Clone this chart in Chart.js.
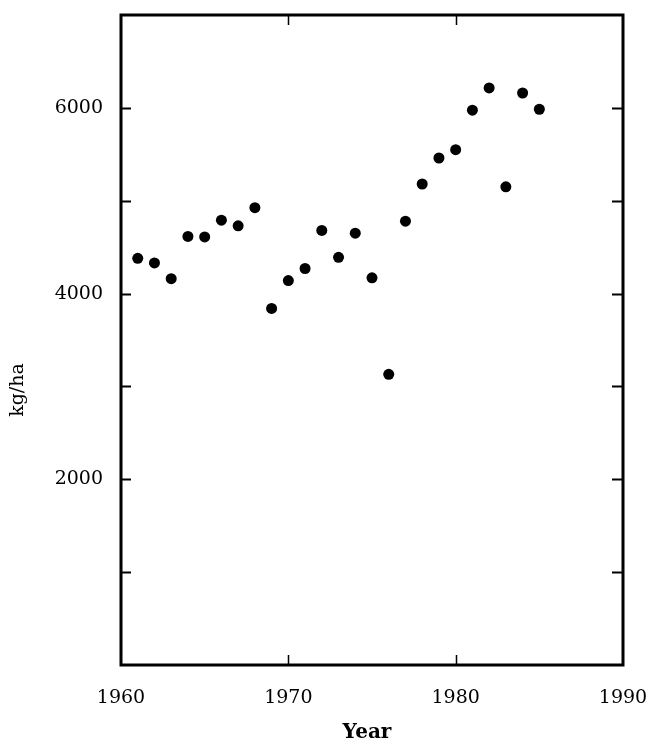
<!DOCTYPE html>
<html>
<head>
<meta charset="utf-8">
<script src="https://cdn.jsdelivr.net/npm/chart.js@4/dist/chart.umd.min.js"></script>
<style>
html,body{margin:0;padding:0;background:#fff;}
#wrap{width:654px;height:743px;position:relative;}
</style>
</head>
<body>
<div id="wrap"><canvas id="c" width="654" height="743"></canvas></div>
<script>
const years = [1961,1962,1963,1964,1965,1966,1967,1968,1969,1970,1971,1972,1973,1974,1975,1976,1977,1978,1979,1980,1981,1982,1983,1984,1985];
const yields = [4380,4330,4160,4615,4610,4790,4730,4925,3840,4140,4270,4680,4390,4650,4170,3130,4780,5180,5460,5550,5975,6215,5150,6160,5985];
const xTickLabels = ['1960','1970','1980','1990'];
const yTickLabels = ['2000','4000','6000'];
const xTitle = 'Year';
const yTitle = 'kg/ha';

const FONT = '"DejaVu Serif", "Liberation Serif", serif';

const framePlugin = {
  id: 'frame',
  afterDraw(chart) {
    const ctx = chart.ctx;
    const a = chart.chartArea;
    const xs = chart.scales.x, ys = chart.scales.y;
    ctx.save();
    ctx.strokeStyle = '#000';
    ctx.lineWidth = 2;
    ys.ticks.forEach(t => {
      if (t.value <= ys.min || t.value >= ys.max) return;
      const py = Math.round(ys.getPixelForValue(t.value)) + 0.5;
      ctx.beginPath();
      ctx.moveTo(a.left, py); ctx.lineTo(a.left + 10, py);
      ctx.moveTo(a.right, py); ctx.lineTo(a.right - 11, py);
      ctx.stroke();
    });
    ctx.lineWidth = 1.5;
    xs.ticks.forEach(t => {
      if (t.value <= xs.min || t.value >= xs.max) return;
      const px = Math.round(xs.getPixelForValue(t.value)) + 0.5;
      ctx.beginPath();
      ctx.moveTo(px, a.bottom); ctx.lineTo(px, a.bottom - 10);
      ctx.moveTo(px, a.top); ctx.lineTo(px, a.top + 10);
      ctx.stroke();
    });
    ctx.lineWidth = 3;
    ctx.strokeRect(a.left, a.top, a.right - a.left, a.bottom - a.top);
    ctx.fillStyle = '#000';
    ctx.textAlign = 'center';
    ctx.textBaseline = 'middle';
    ctx.font = 'bold 20px ' + FONT;
    ctx.fillText(xTitle, 367, 733);
    ctx.save();
    ctx.translate(18, 390);
    ctx.rotate(-Math.PI / 2);
    ctx.font = '19px ' + FONT;
    ctx.fillText(yTitle, 0, 0);
    ctx.restore();
    ctx.restore();
  }
};

function noPad(s) { s.paddingTop = 0; s.paddingBottom = 0; s.paddingLeft = 0; s.paddingRight = 0; }

new Chart(document.getElementById('c'), {
  type: 'scatter',
  data: {
    datasets: [{
      data: years.map((y, i) => ({x: y, y: yields[i]})),
      backgroundColor: '#000',
      borderWidth: 0,
      pointRadius: 5.5,
      pointHoverRadius: 5.5
    }]
  },
  options: {
    responsive: false,
    animation: false,
    events: [],
    layout: {padding: {top: 15, right: 31, left: 0, bottom: 0}},
    plugins: {legend: {display: false}, tooltip: {enabled: false}},
    scales: {
      x: {
        type: 'linear', min: 1960, max: 1990,
        grid: {display: false},
        border: {display: false},
        afterFit(s) { s.height = 78; noPad(s); },
        ticks: {
          stepSize: 10, autoSkip: false, padding: 14, color: '#000',
          font: {family: FONT, size: 19},
          callback: v => xTickLabels.includes(String(v)) ? String(v) : ''
        }
      },
      y: {
        type: 'linear', min: 0, max: 7000,
        grid: {display: false},
        border: {display: false},
        afterFit(s) { s.width = 121; noPad(s); },
        ticks: {
          stepSize: 1000, autoSkip: false, padding: 10, color: '#000',
          font: {family: FONT, size: 19},
          callback: v => yTickLabels.includes(String(v)) ? String(v) : ''
        }
      }
    }
  },
  plugins: [framePlugin]
});
</script>
</body>
</html>
